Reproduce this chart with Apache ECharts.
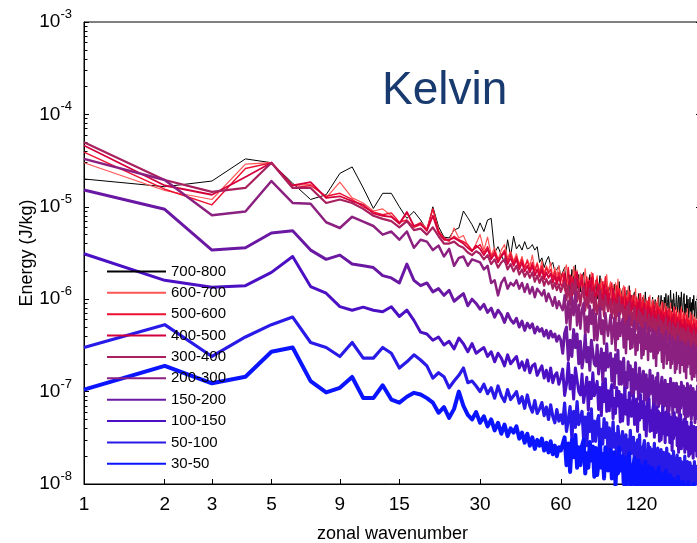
<!DOCTYPE html>
<html><head><meta charset="utf-8">
<script src="https://cdn.jsdelivr.net/npm/echarts@6/dist/echarts.min.js"></script>
<style>html,body{margin:0;padding:0;background:#fff}#c{width:697px;height:543px}</style>
</head><body><div id="c"></div>
<script>
// ---- data (energy in J/kg, index i -> zonal wavenumber i+1) ----
const seriesNames = ['700-800','600-700','500-600','400-500','300-400','200-300','150-200','100-150','50-100','30-50'];
const xTickValues = [1,2,3,5,9,15,30,60,120];
const yTickValues = [1e-8,1e-7,1e-6,1e-5,1e-4,1e-3];

const s700_800 = [
2.0e-5,1.65e-5,1.9e-5,3.3e-5,3.0e-5,1.8e-5,1.2e-5,1.35e-5,2.3e-5,2.7e-5,
1.6e-5,9.6e-6,1.4e-5,1.4e-5,1.0e-5,7.5e-6,8.9e-6,7.2e-6,5.6e-6,1.0e-5,
6.1e-6,4.7e-6,4.6e-6,5.6e-6,5.9e-6,9.0e-6,7.6e-6,6.4e-6,5.2e-6,6.7e-6,
5.4e-6,7.2e-6,7.5e-6,3.2e-6,3.7e-6,3.0e-6,2.5e-6,4.4e-6,2.9e-6,4.8e-6,
3.5e-6,3.9e-6,3.4e-6,4.2e-6,3.5e-6,3.6e-6,3.9e-6,3.4e-6,3.7e-6,2.5e-6,
2.8e-6,2.2e-6,2.6e-6,2.9e-6,2.3e-6,2.5e-6,2.0e-6,2.1e-6,2.3e-6,1.75e-6,
1.7e-6,2.2e-6,1.4e-6,2.0e-6,1.2e-6,2.1e-6,1.6e-6,2.35e-6,1.3e-6,1.85e-6,
1.2e-6,1.75e-6,1.95e-6,1.1e-6,1.5e-6,1.15e-6,1.85e-6,1.35e-6,1.7e-6,1.0e-6,
1.6e-6,1.0e-6,1.25e-6,1.8e-6,1.15e-6,1.45e-6,9.6e-7,1.65e-6,1.35e-6,1.1e-6,
1.05e-6,1.5e-6,9.2e-7,1.15e-6,1.45e-6,8.1e-7,1.3e-6,9.9e-7,1.55e-6,1.05e-6,
1.0e-6,1.3e-6,8.2e-7,1.15e-6,7.2e-7,1.25e-6,9.5e-7,1.4e-6,7.8e-7,1.1e-6,
7.7e-7,1.1e-6,1.2e-6,6.8e-7,9.5e-7,7.2e-7,1.15e-6,8.3e-7,1.05e-6,6.3e-7,
1.05e-6,6.6e-7,8.1e-7,1.2e-6,7.5e-7,9.4e-7,6.3e-7,1.05e-6,8.7e-7,7.1e-7,
7.4e-7,1.05e-6,6.4e-7,7.8e-7,9.9e-7,5.6e-7,9.1e-7,6.9e-7,1.1e-6,7.2e-7,
8.5e-7,1.1e-6,7.0e-7,9.8e-7,6.1e-7,1.05e-6,8.1e-7,1.15e-6,6.6e-7,9.2e-7,
1.1e-6,7.0e-7,8.6e-7,1.25e-6,7.9e-7,9.9e-7,6.7e-7,1.15e-6,9.2e-7,7.6e-7,
8.3e-7,1.2e-6,7.2e-7,8.8e-7,1.1e-6,6.3e-7,1.05e-6,7.7e-7,1.2e-6,8.1e-7,
7.2e-7,1.0e-6,1.15e-6,6.4e-7,8.9e-7,6.8e-7,1.1e-6,7.8e-7,1.0e-6,6.0e-7,
8.0e-7,1.05e-6,6.6e-7,9.2e-7,5.8e-7,1.0e-6,7.6e-7,1.1e-6,6.2e-7,8.6e-7,
9.5e-7,6.1e-7,7.4e-7,1.1e-6,6.9e-7,8.6e-7,5.8e-7,9.8e-7,8.0e-7,6.6e-7];

const s600_700 = [
3.0e-5,1.5e-5,1.2e-5,2.9e-5,3.0e-5,1.7e-5,1.75e-5,1.25e-5,1.85e-5,1.25e-5,
1.1e-5,9.0e-6,9.5e-6,8.0e-6,6.5e-6,8.5e-6,6.2e-6,6.8e-6,5.8e-6,9.5e-6,
5.6e-6,4.5e-6,4.2e-6,5.9e-6,4.6e-6,4.9e-6,3.8e-6,3.3e-6,4.0e-6,5.0e-6,
3.4e-6,4.7e-6,3.0e-6,3.6e-6,2.7e-6,3.4e-6,3.9e-6,2.8e-6,3.3e-6,2.6e-6,
3.1e-6,2.4e-6,2.9e-6,2.2e-6,2.7e-6,2.3e-6,3.0e-6,2.1e-6,2.5e-6,2.0e-6,
2.6e-6,1.9e-6,2.3e-6,2.0e-6,2.5e-6,1.7e-6,2.2e-6,1.8e-6,2.3e-6,1.7e-6,
1.5e-6,2.1e-6,2.35e-6,1.3e-6,1.85e-6,1.4e-6,2.25e-6,1.6e-6,2.05e-6,1.25e-6,
1.9e-6,1.2e-6,1.45e-6,2.15e-6,1.35e-6,1.7e-6,1.15e-6,1.95e-6,1.6e-6,1.3e-6,
1.25e-6,1.8e-6,1.1e-6,1.3e-6,1.65e-6,9.5e-7,1.55e-6,1.15e-6,1.85e-6,1.2e-6,
1.2e-6,1.55e-6,9.8e-7,1.4e-6,8.6e-7,1.5e-6,1.15e-6,1.65e-6,9.4e-7,1.3e-6,
8.9e-7,1.25e-6,1.4e-6,7.9e-7,1.1e-6,8.4e-7,1.35e-6,9.7e-7,1.25e-6,7.4e-7,
1.1e-6,7.2e-7,8.7e-7,1.3e-6,8.1e-7,1.0e-6,6.8e-7,1.15e-6,9.4e-7,7.7e-7,
7.5e-7,1.1e-6,6.6e-7,8.0e-7,1.0e-6,5.7e-7,9.3e-7,7.1e-7,1.1e-6,7.4e-7,
7.6e-7,9.9e-7,6.2e-7,8.7e-7,5.5e-7,9.5e-7,7.2e-7,1.05e-6,5.9e-7,8.2e-7,
6.0e-7,8.4e-7,9.5e-7,5.3e-7,7.4e-7,5.6e-7,9.0e-7,6.4e-7,8.3e-7,4.9e-7,
7.9e-7,5.1e-7,6.2e-7,9.1e-7,5.7e-7,7.2e-7,4.8e-7,8.2e-7,6.6e-7,5.5e-7,
5.6e-7,8.1e-7,4.9e-7,6.0e-7,7.6e-7,4.3e-7,7.0e-7,5.2e-7,8.3e-7,5.5e-7,
5.7e-7,7.4e-7,4.7e-7,6.6e-7,4.1e-7,7.1e-7,5.4e-7,7.9e-7,4.4e-7,6.2e-7,
4.6e-7,6.5e-7,7.3e-7,4.1e-7,5.7e-7,4.3e-7,6.9e-7,5.0e-7,6.4e-7,3.8e-7,
6.2e-7,4.0e-7,4.8e-7,7.1e-7,4.5e-7,5.6e-7,3.8e-7,6.4e-7,5.2e-7,4.3e-7];

const s500_600 = [
3.9e-5,1.55e-5,1.05e-5,2.6e-5,3.0e-5,1.6e-5,1.7e-5,1.3e-5,1.4e-5,1.2e-5,
1.0e-5,8.8e-6,8.2e-6,8.6e-6,6.8e-6,7.2e-6,6.0e-6,6.4e-6,5.6e-6,9.5e-6,
5.4e-6,4.6e-6,4.3e-6,4.8e-6,4.4e-6,4.2e-6,3.9e-6,3.4e-6,3.6e-6,3.9e-6,
3.2e-6,3.7e-6,2.9e-6,3.3e-6,2.7e-6,3.0e-6,3.4e-6,2.6e-6,3.1e-6,2.5e-6,
2.9e-6,2.3e-6,2.7e-6,2.2e-6,2.6e-6,2.1e-6,2.5e-6,2.0e-6,2.4e-6,1.9e-6,
2.3e-6,1.8e-6,2.2e-6,1.9e-6,2.1e-6,1.7e-6,2.0e-6,1.6e-6,1.95e-6,1.6e-6,
1.95e-6,1.25e-6,1.5e-6,2.2e-6,1.4e-6,1.75e-6,1.2e-6,2.0e-6,1.6e-6,1.35e-6,
1.3e-6,1.85e-6,1.1e-6,1.35e-6,1.75e-6,9.8e-7,1.6e-6,1.2e-6,1.9e-6,1.25e-6,
1.25e-6,1.65e-6,1.05e-6,1.45e-6,9.0e-7,1.55e-6,1.2e-6,1.75e-6,9.8e-7,1.35e-6,
9.4e-7,1.3e-6,1.5e-6,8.3e-7,1.15e-6,8.8e-7,1.4e-6,1.0e-6,1.3e-6,7.7e-7,
1.15e-6,7.4e-7,9.0e-7,1.35e-6,8.4e-7,1.05e-6,7.0e-7,1.2e-6,9.7e-7,8.0e-7,
7.8e-7,1.1e-6,6.8e-7,8.3e-7,1.05e-6,6.0e-7,9.7e-7,7.3e-7,1.15e-6,7.7e-7,
7.7e-7,1.0e-6,6.3e-7,8.9e-7,5.5e-7,9.6e-7,7.3e-7,1.05e-6,6.0e-7,8.3e-7,
6.0e-7,8.4e-7,9.5e-7,5.3e-7,7.4e-7,5.6e-7,9.0e-7,6.4e-7,8.3e-7,4.9e-7,
7.9e-7,5.1e-7,6.2e-7,9.1e-7,5.7e-7,7.2e-7,4.8e-7,8.2e-7,6.6e-7,5.5e-7,
5.5e-7,7.9e-7,4.8e-7,5.9e-7,7.4e-7,4.2e-7,6.8e-7,5.2e-7,8.2e-7,5.4e-7,
5.6e-7,7.3e-7,4.6e-7,6.4e-7,4.0e-7,7.0e-7,5.3e-7,7.7e-7,4.4e-7,6.0e-7,
4.4e-7,6.2e-7,7.0e-7,3.9e-7,5.5e-7,4.2e-7,6.7e-7,4.8e-7,6.1e-7,3.6e-7,
5.9e-7,3.7e-7,4.6e-7,6.7e-7,4.2e-7,5.3e-7,3.6e-7,6.0e-7,4.9e-7,4.0e-7,
4.1e-7,5.9e-7,3.6e-7,4.4e-7,5.6e-7,3.2e-7,5.1e-7,3.9e-7,6.1e-7,4.1e-7];

const s400_500 = [
4.6e-5,1.7e-5,1.35e-5,2.1e-5,3.0e-5,1.7e-5,1.85e-5,1.25e-5,1.3e-5,1.15e-5,
1.05e-5,8.5e-6,8.0e-6,7.8e-6,6.6e-6,8.8e-6,6.2e-6,6.6e-6,5.5e-6,8.0e-6,
5.2e-6,4.4e-6,4.4e-6,4.6e-6,4.3e-6,4.0e-6,3.6e-6,3.3e-6,3.8e-6,3.5e-6,
3.0e-6,3.5e-6,2.7e-6,3.1e-6,2.5e-6,2.9e-6,3.2e-6,2.4e-6,2.8e-6,2.3e-6,
2.7e-6,2.1e-6,2.5e-6,2.0e-6,2.3e-6,1.95e-6,2.3e-6,1.8e-6,2.1e-6,1.75e-6,
2.1e-6,1.65e-6,1.95e-6,1.7e-6,1.9e-6,1.5e-6,1.8e-6,1.45e-6,1.75e-6,1.45e-6,
1.35e-6,1.9e-6,1.15e-6,1.4e-6,1.8e-6,1.0e-6,1.65e-6,1.25e-6,1.95e-6,1.3e-6,
1.25e-6,1.6e-6,1.05e-6,1.45e-6,9.0e-7,1.55e-6,1.2e-6,1.7e-6,9.8e-7,1.35e-6,
9.2e-7,1.3e-6,1.45e-6,8.1e-7,1.15e-6,8.6e-7,1.4e-6,9.9e-7,1.25e-6,7.6e-7,
1.15e-6,7.3e-7,8.8e-7,1.3e-6,8.2e-7,1.0e-6,6.9e-7,1.15e-6,9.5e-7,7.8e-7,
7.5e-7,1.05e-6,6.6e-7,8.0e-7,1.0e-6,5.7e-7,9.3e-7,7.1e-7,1.1e-6,7.4e-7,
7.3e-7,9.5e-7,6.0e-7,8.4e-7,5.3e-7,9.1e-7,6.9e-7,1.0e-6,5.7e-7,7.9e-7,
5.6e-7,7.9e-7,8.9e-7,5.0e-7,6.9e-7,5.3e-7,8.4e-7,6.1e-7,7.8e-7,4.6e-7,
7.3e-7,4.7e-7,5.7e-7,8.4e-7,5.3e-7,6.6e-7,4.4e-7,7.6e-7,6.1e-7,5.0e-7,
5.1e-7,7.3e-7,4.4e-7,5.4e-7,6.8e-7,3.9e-7,6.3e-7,4.7e-7,7.5e-7,5.0e-7,
5.0e-7,6.5e-7,4.1e-7,5.8e-7,3.6e-7,6.3e-7,4.8e-7,6.9e-7,3.9e-7,5.4e-7,
3.9e-7,5.5e-7,6.2e-7,3.5e-7,4.8e-7,3.7e-7,5.9e-7,4.2e-7,5.4e-7,3.2e-7,
5.2e-7,3.4e-7,4.1e-7,6.0e-7,3.8e-7,4.7e-7,3.2e-7,5.4e-7,4.4e-7,3.6e-7,
3.7e-7,5.3e-7,3.2e-7,3.9e-7,5.0e-7,2.8e-7,4.6e-7,3.4e-7,5.4e-7,3.6e-7,
3.8e-7,4.9e-7,3.1e-7,4.4e-7,2.7e-7,4.8e-7,3.6e-7,5.2e-7,3.0e-7,4.1e-7];

const s300_400 = [
5.0e-5,1.95e-5,1.45e-5,1.6e-5,3.0e-5,1.6e-5,1.6e-5,1.1e-5,1.2e-5,1.1e-5,
9.5e-6,8.0e-6,7.4e-6,7.0e-6,6.0e-6,7.0e-6,5.6e-6,5.8e-6,5.0e-6,6.0e-6,
4.8e-6,4.0e-6,4.0e-6,4.2e-6,3.8e-6,3.6e-6,3.2e-6,3.0e-6,3.3e-6,3.1e-6,
2.7e-6,3.0e-6,2.4e-6,2.7e-6,2.2e-6,2.5e-6,2.7e-6,2.1e-6,2.4e-6,2.0e-6,
2.3e-6,1.85e-6,2.1e-6,1.75e-6,2.0e-6,1.7e-6,1.95e-6,1.55e-6,1.8e-6,1.5e-6,
1.75e-6,1.4e-6,1.65e-6,1.45e-6,1.6e-6,1.3e-6,1.5e-6,1.25e-6,1.45e-6,1.2e-6,
1.2e-6,1.55e-6,9.8e-7,1.4e-6,8.6e-7,1.5e-6,1.15e-6,1.65e-6,9.4e-7,1.3e-6,
8.5e-7,1.2e-6,1.35e-6,7.5e-7,1.05e-6,8.0e-7,1.3e-6,9.2e-7,1.2e-6,7.0e-7,
1.05e-6,6.9e-7,8.4e-7,1.25e-6,7.7e-7,9.7e-7,6.5e-7,1.1e-6,9.0e-7,7.4e-7,
7.1e-7,1.0e-6,6.2e-7,7.5e-7,9.5e-7,5.4e-7,8.8e-7,6.6e-7,1.05e-6,6.9e-7,
6.7e-7,8.7e-7,5.5e-7,7.7e-7,4.8e-7,8.4e-7,6.4e-7,9.2e-7,5.2e-7,7.2e-7,
5.1e-7,7.2e-7,8.1e-7,4.5e-7,6.3e-7,4.8e-7,7.7e-7,5.5e-7,7.1e-7,4.2e-7,
6.6e-7,4.2e-7,5.1e-7,7.6e-7,4.8e-7,5.9e-7,4.0e-7,6.8e-7,5.5e-7,4.5e-7,
4.5e-7,6.5e-7,3.9e-7,4.8e-7,6.1e-7,3.4e-7,5.6e-7,4.2e-7,6.7e-7,4.4e-7,
4.5e-7,5.9e-7,3.7e-7,5.2e-7,3.2e-7,5.6e-7,4.3e-7,6.2e-7,3.5e-7,4.9e-7,
3.6e-7,5.0e-7,5.7e-7,3.2e-7,4.4e-7,3.4e-7,5.4e-7,3.9e-7,5.0e-7,2.9e-7,
4.8e-7,3.0e-7,3.7e-7,5.5e-7,3.4e-7,4.3e-7,2.9e-7,4.9e-7,4.0e-7,3.3e-7,
3.3e-7,4.8e-7,2.9e-7,3.5e-7,4.5e-7,2.5e-7,4.1e-7,3.1e-7,4.9e-7,3.2e-7,
3.3e-7,4.3e-7,2.7e-7,3.8e-7,2.4e-7,4.1e-7,3.1e-7,4.6e-7,2.6e-7,3.6e-7,
2.6e-7,3.7e-7,4.2e-7,2.3e-7,3.3e-7,2.5e-7,4.0e-7,2.9e-7,3.7e-7,2.2e-7];

const s200_300 = [
3.3e-5,1.95e-5,8.1e-6,8.9e-6,1.9e-5,1.1e-5,1.08e-5,6.8e-6,5.9e-6,7.8e-6,
6.9e-6,6.2e-6,5.0e-6,5.4e-6,4.4e-6,5.4e-6,3.6e-6,4.4e-6,4.2e-6,3.4e-6,
3.8e-6,2.9e-6,3.5e-6,2.3e-6,2.8e-6,2.9e-6,2.3e-6,2.7e-6,2.6e-6,2.5e-6,
2.1e-6,2.3e-6,1.5e-6,1.6e-6,1.1e-6,1.5e-6,1.7e-6,1.3e-6,1.5e-6,1.4e-6,
1.6e-6,1.3e-6,1.5e-6,1.2e-6,1.45e-6,1.15e-6,1.35e-6,1.05e-6,1.3e-6,1.2e-6,
1.1e-6,1.25e-6,9.5e-7,1.15e-6,1.0e-6,8.5e-7,1.05e-6,8.0e-7,9.5e-7,8.4e-7,
7.6e-7,1.1e-6,5.5e-7,9.5e-7,4.7e-7,1.05e-6,6.7e-7,1.18e-6,5.2e-7,8.7e-7,
4.8e-7,7.8e-7,9.1e-7,4.0e-7,6.5e-7,4.4e-7,8.5e-7,5.4e-7,7.7e-7,3.6e-7,
6.9e-7,3.6e-7,4.8e-7,8.1e-7,4.2e-7,5.9e-7,3.3e-7,7.1e-7,5.2e-7,4.0e-7,
4.0e-7,6.8e-7,3.3e-7,4.5e-7,6.3e-7,2.8e-7,5.5e-7,3.7e-7,7.0e-7,4.0e-7,
4.2e-7,6.1e-7,3.0e-7,5.3e-7,2.6e-7,5.8e-7,3.7e-7,6.5e-7,2.9e-7,4.8e-7,
3.0e-7,4.9e-7,5.8e-7,2.5e-7,4.1e-7,2.8e-7,5.4e-7,3.4e-7,4.9e-7,2.3e-7,
4.7e-7,2.5e-7,3.3e-7,5.5e-7,2.9e-7,4.1e-7,2.2e-7,4.9e-7,3.6e-7,2.7e-7,
2.8e-7,4.7e-7,2.3e-7,3.1e-7,4.4e-7,1.9e-7,3.8e-7,2.6e-7,4.9e-7,2.8e-7,
2.9e-7,4.2e-7,2.1e-7,3.6e-7,1.8e-7,4.0e-7,2.6e-7,4.5e-7,2.0e-7,3.3e-7,
2.2e-7,3.5e-7,4.1e-7,1.8e-7,2.9e-7,2.0e-7,3.8e-7,2.4e-7,3.5e-7,1.6e-7,
3.4e-7,1.75e-7,2.35e-7,4.0e-7,2.05e-7,2.9e-7,1.6e-7,3.5e-7,2.55e-7,1.95e-7,
2.0e-7,3.4e-7,1.65e-7,2.25e-7,3.1e-7,1.4e-7,2.75e-7,1.85e-7,3.5e-7,2.0e-7,
2.15e-7,3.1e-7,1.55e-7,2.7e-7,1.35e-7,3.0e-7,1.9e-7,3.3e-7,1.45e-7,2.5e-7,
1.6e-7,2.6e-7,3.0e-7,1.3e-7,2.15e-7,1.5e-7,2.85e-7,1.8e-7,2.55e-7,1.2e-7];

const s150_200 = [
1.52e-5,9.4e-6,3.4e-6,3.6e-6,5.2e-6,5.5e-6,3.4e-6,2.7e-6,3.0e-6,2.4e-6,
2.3e-6,2.2e-6,1.8e-6,1.7e-6,1.5e-6,2.4e-6,1.6e-6,1.4e-6,1.5e-6,1.2e-6,
1.3e-6,1.1e-6,1.25e-6,9.5e-7,1.05e-6,1.15e-6,8.5e-7,1.0e-6,9.0e-7,7.8e-7,
8.8e-7,7.2e-7,8.0e-7,6.4e-7,7.6e-7,6.8e-7,5.6e-7,7.0e-7,6.0e-7,5.5e-7,
6.2e-7,5.0e-7,5.8e-7,4.6e-7,5.5e-7,4.9e-7,5.4e-7,4.3e-7,5.0e-7,4.5e-7,
4.8e-7,4.0e-7,4.6e-7,3.8e-7,4.5e-7,3.9e-7,4.2e-7,3.5e-7,4.0e-7,3.6e-7,
2.6e-7,4.3e-7,5.0e-7,2.2e-7,3.6e-7,2.4e-7,4.7e-7,3.0e-7,4.2e-7,2.0e-7,
3.5e-7,1.8e-7,2.4e-7,4.1e-7,2.1e-7,3.0e-7,1.7e-7,3.6e-7,2.65e-7,2.0e-7,
1.9e-7,3.2e-7,1.55e-7,2.1e-7,2.9e-7,1.3e-7,2.6e-7,1.7e-7,3.3e-7,1.85e-7,
1.8e-7,2.6e-7,1.3e-7,2.25e-7,1.1e-7,2.5e-7,1.6e-7,2.8e-7,1.2e-7,2.1e-7,
1.2e-7,1.95e-7,2.3e-7,1.0e-7,1.6e-7,1.1e-7,2.1e-7,1.35e-7,1.9e-7,9.0e-8,
1.75e-7,9.1e-8,1.2e-7,2.05e-7,1.07e-7,1.5e-7,8.3e-8,1.8e-7,1.33e-7,1.0e-7,
9.9e-8,1.66e-7,8.1e-8,1.1e-7,1.52e-7,6.7e-8,1.34e-7,9.0e-8,1.7e-7,9.6e-8,
1.02e-7,1.48e-7,7.3e-8,1.28e-7,6.3e-8,1.41e-7,9.0e-8,1.58e-7,6.9e-8,1.17e-7,
7.5e-8,1.22e-7,1.43e-7,6.2e-8,1.02e-7,7.0e-8,1.33e-7,8.5e-8,1.2e-7,5.6e-8,
1.19e-7,6.2e-8,8.3e-8,1.39e-7,7.2e-8,1.02e-7,5.6e-8,1.23e-7,9.0e-8,6.9e-8,
7.3e-8,1.23e-7,6.0e-8,8.1e-8,1.13e-7,5.0e-8,1.0e-7,6.6e-8,1.26e-7,7.1e-8,
7.9e-8,1.15e-7,5.7e-8,9.9e-8,4.9e-8,1.09e-7,7.0e-8,1.22e-7,5.4e-8,9.1e-8,
6.1e-8,9.9e-8,1.16e-7,5.0e-8,8.2e-8,5.6e-8,1.08e-7,6.8e-8,9.7e-8,4.6e-8,
9.9e-8,5.1e-8,6.9e-8,1.15e-7,6.0e-8,8.5e-8,4.7e-8,1.02e-7,7.4e-8,5.7e-8];

const s100_150 = [
3.1e-6,1.6e-6,1.35e-6,1.4e-6,1.95e-6,2.9e-6,1.37e-6,1.16e-6,8.3e-7,7.6e-7,
8.2e-7,7.6e-7,7.3e-7,8.3e-7,6.5e-7,7.6e-7,5.9e-7,4.4e-7,4.2e-7,3.6e-7,
3.9e-7,3.2e-7,3.5e-7,2.9e-7,3.8e-7,3.3e-7,2.7e-7,3.3e-7,2.6e-7,2.8e-7,
3.0e-7,2.4e-7,2.7e-7,2.1e-7,2.6e-7,2.3e-7,1.9e-7,2.5e-7,2.0e-7,2.2e-7,
2.4e-7,1.8e-7,2.1e-7,1.7e-7,2.2e-7,1.6e-7,1.9e-7,2.0e-7,1.5e-7,1.7e-7,
1.9e-7,1.4e-7,1.7e-7,1.3e-7,1.8e-7,1.25e-7,1.5e-7,1.6e-7,1.2e-7,1.4e-7,
1.75e-7,9.1e-8,1.2e-7,2.05e-7,1.07e-7,1.5e-7,8.3e-8,1.8e-7,1.33e-7,1.0e-7,
9.2e-8,1.55e-7,7.6e-8,1.03e-7,1.43e-7,6.3e-8,1.26e-7,8.4e-8,1.6e-7,9.0e-8,
8.9e-8,1.29e-7,6.4e-8,1.11e-7,5.5e-8,1.23e-7,7.8e-8,1.38e-7,6.1e-8,1.02e-7,
6.2e-8,1.01e-7,1.19e-7,5.1e-8,8.4e-8,5.8e-8,1.11e-7,7.0e-8,1.0e-7,4.7e-8,
9.3e-8,4.8e-8,6.5e-8,1.09e-7,5.7e-8,8.0e-8,4.4e-8,9.7e-8,7.0e-8,5.4e-8,
5.4e-8,9.0e-8,4.4e-8,6.0e-8,8.3e-8,3.7e-8,7.3e-8,4.9e-8,9.3e-8,5.2e-8,
5.4e-8,7.8e-8,3.9e-8,6.8e-8,3.3e-8,7.5e-8,4.8e-8,8.4e-8,3.7e-8,6.2e-8,
3.8e-8,6.2e-8,7.3e-8,3.2e-8,5.2e-8,3.6e-8,6.8e-8,4.3e-8,6.1e-8,2.9e-8,
5.8e-8,3.0e-8,4.0e-8,6.8e-8,3.5e-8,5.0e-8,2.8e-8,6.0e-8,4.4e-8,3.4e-8,
3.4e-8,5.8e-8,2.8e-8,3.8e-8,5.3e-8,2.3e-8,4.7e-8,3.1e-8,5.9e-8,3.4e-8,
3.6e-8,5.2e-8,2.6e-8,4.5e-8,2.2e-8,5.0e-8,3.2e-8,5.6e-8,2.4e-8,4.1e-8,
2.6e-8,4.3e-8,5.0e-8,2.2e-8,3.6e-8,2.4e-8,4.7e-8,3.0e-8,4.2e-8,2.0e-8,
4.1e-8,2.1e-8,2.8e-8,4.7e-8,2.5e-8,3.5e-8,1.9e-8,4.2e-8,3.1e-8,2.3e-8,
2.5e-8,4.1e-8,2.0e-8,2.7e-8,3.8e-8,1.7e-8,3.4e-8,2.2e-8,4.3e-8,2.4e-8];

const s50_100 = [
3.0e-7,5.3e-7,2.4e-7,3.9e-7,5.3e-7,6.4e-7,3.4e-7,3.0e-7,2.4e-7,3.4e-7,
2.3e-7,2.3e-7,3.0e-7,2.6e-7,1.8e-7,2.1e-7,2.5e-7,2.2e-7,1.9e-7,1.4e-7,
1.6e-7,1.45e-7,1.1e-7,1.3e-7,1.5e-7,1.8e-7,1.25e-7,1.3e-7,1.15e-7,1.0e-7,
1.2e-7,9.5e-8,1.1e-7,8.5e-8,1.15e-7,9.0e-8,7.8e-8,1.05e-7,8.2e-8,9.0e-8,
1.0e-7,7.5e-8,8.8e-8,6.6e-8,9.2e-8,7.0e-8,6.0e-8,8.0e-8,5.8e-8,6.5e-8,
7.6e-8,5.5e-8,6.8e-8,5.0e-8,7.2e-8,5.4e-8,4.6e-8,6.4e-8,4.8e-8,5.6e-8,
4.5e-8,7.5e-8,3.7e-8,5.0e-8,6.9e-8,3.1e-8,6.1e-8,4.1e-8,7.8e-8,4.4e-8,
4.2e-8,6.1e-8,3.0e-8,5.3e-8,2.6e-8,5.8e-8,3.7e-8,6.5e-8,2.9e-8,4.8e-8,
2.9e-8,4.7e-8,5.5e-8,2.4e-8,3.9e-8,2.7e-8,5.1e-8,3.2e-8,4.6e-8,2.2e-8,
4.05e-8,2.1e-8,2.8e-8,4.7e-8,2.5e-8,3.5e-8,1.9e-8,4.2e-8,3.1e-8,2.3e-8,
2.2e-8,3.7e-8,1.8e-8,2.45e-8,3.4e-8,1.5e-8,3.0e-8,2.0e-8,3.8e-8,2.15e-8,
2.2e-8,3.2e-8,1.6e-8,2.75e-8,1.35e-8,3.0e-8,1.95e-8,3.4e-8,1.5e-8,2.5e-8,
1.55e-8,2.55e-8,2.95e-8,1.3e-8,2.1e-8,1.45e-8,2.75e-8,1.75e-8,2.5e-8,1.15e-8,
2.35e-8,1.2e-8,1.65e-8,2.75e-8,1.45e-8,2.05e-8,1.1e-8,2.45e-8,1.8e-8,1.35e-8,
1.4e-8,2.35e-8,1.15e-8,1.55e-8,2.2e-8,9.6e-9,1.9e-8,1.3e-8,2.45e-8,1.4e-8,
1.45e-8,2.1e-8,1.05e-8,1.8e-8,9.0e-9,2.0e-8,1.3e-8,2.25e-8,9.9e-9,1.65e-8,
1.1e-8,1.75e-8,2.05e-8,8.9e-9,1.45e-8,1.0e-8,1.9e-8,1.2e-8,1.75e-8,8.1e-9,
1.7e-8,8.8e-9,1.2e-8,2.0e-8,1.0e-8,1.45e-8,8.0e-9,1.75e-8,1.3e-8,9.8e-9,
1.0e-8,1.7e-8,8.3e-9,1.15e-8,1.55e-8,6.9e-9,1.4e-8,9.2e-9,1.75e-8,9.9e-9,
1.08e-8,1.55e-8,7.8e-9,1.35e-8,6.7e-9,1.5e-8,9.5e-9,1.65e-8,7.3e-9,1.25e-8];

const s30_50 = [
1.05e-7,1.9e-7,1.23e-7,1.45e-7,2.7e-7,3.0e-7,1.3e-7,9.8e-8,1.1e-7,1.44e-7,
8.5e-8,8.5e-8,1.17e-7,8.2e-8,7.6e-8,8.8e-8,9.7e-8,9.3e-8,8.5e-8,7.6e-8,
5.9e-8,6.8e-8,5.2e-8,6.5e-8,1.0e-7,7.0e-8,5.6e-8,5.0e-8,6.0e-8,4.6e-8,
5.4e-8,4.2e-8,5.0e-8,3.8e-8,4.6e-8,3.5e-8,4.4e-8,3.3e-8,4.0e-8,3.6e-8,
4.2e-8,3.1e-8,3.6e-8,2.8e-8,3.5e-8,2.6e-8,3.2e-8,2.4e-8,3.0e-8,2.6e-8,
3.1e-8,2.3e-8,2.8e-8,2.2e-8,2.9e-8,2.1e-8,2.6e-8,2.0e-8,2.5e-8,2.3e-8,
2.2e-8,3.2e-8,1.6e-8,2.75e-8,1.35e-8,3.0e-8,1.95e-8,3.4e-8,1.5e-8,2.5e-8,
1.6e-8,2.6e-8,3.0e-8,1.3e-8,2.15e-8,1.5e-8,2.85e-8,1.8e-8,2.55e-8,1.2e-8,
2.45e-8,1.25e-8,1.7e-8,2.85e-8,1.5e-8,2.1e-8,1.15e-8,2.5e-8,1.85e-8,1.4e-8,
1.4e-8,2.35e-8,1.15e-8,1.55e-8,2.2e-8,9.6e-9,1.9e-8,1.3e-8,2.45e-8,1.4e-8,
1.4e-8,2.0e-8,1.0e-8,1.75e-8,8.7e-9,1.95e-8,1.25e-8,2.15e-8,9.5e-9,1.6e-8,
1.0e-8,1.6e-8,1.9e-8,8.3e-9,1.35e-8,9.3e-9,1.8e-8,1.1e-8,1.6e-8,7.5e-9,
1.5e-8,7.8e-9,1.05e-8,1.75e-8,9.2e-9,1.3e-8,7.2e-9,1.55e-8,1.15e-8,8.7e-9,
8.8e-9,1.48e-8,7.2e-9,9.8e-9,1.36e-8,6.0e-9,1.2e-8,8.0e-9,1.52e-8,8.6e-9,
9.0e-9,1.3e-8,6.5e-9,1.1e-8,5.6e-9,1.25e-8,8.0e-9,1.4e-8,6.1e-9,1.05e-8,
6.6e-9,1.05e-8,1.25e-8,5.4e-9,8.9e-9,6.1e-9,1.15e-8,7.4e-9,1.05e-8,4.9e-9,
1.05e-8,5.3e-9,7.1e-9,1.2e-8,6.2e-9,8.8e-9,4.9e-9,1.05e-8,7.8e-9,5.9e-9,
6.2e-9,1.05e-8,5.0e-9,6.9e-9,9.5e-9,4.2e-9,8.4e-9,5.6e-9,1.05e-8,6.0e-9,
6.5e-9,9.4e-9,4.7e-9,8.1e-9,4.0e-9,9.0e-9,5.7e-9,1.0e-8,4.4e-9,7.5e-9,
4.8e-9,7.8e-9,9.1e-9,4.0e-9,6.5e-9,4.4e-9,8.5e-9,5.4e-9,7.7e-9,3.6e-9];

const seriesValues = [s700_800,s600_700,s500_600,s400_500,s300_400,s200_300,s150_200,s100_150,s50_100,s30_50];

// ---- styles ----
const lineColors = ['#000000','#ff5555','#ee1030','#d4003c','#a8205e','#8c2080','#6a18a4','#4c10c4','#2a1ae8','#0a14ff'];
const lineWidths = [1,1.2,1.4,1.8,2.2,2.5,3,3,3.2,4];
const FONT = '"Liberation Sans", Arial, Helvetica, sans-serif';

// Minor ticks (2..9 in each decade). They are drawn by a helper log axis that spans the
// same pixel range as the energy axis but is expressed in units of 1e-8 J/kg
// (1 .. 1e5), which keeps the tick values well away from floating-point rounding.
const minorTickUnits = [];
for (let e = 0; e < 5; e++) for (let m = 2; m <= 9; m++) minorTickUnits.push(m * Math.pow(10, e));

const series = seriesNames.map((name, i) => ({
  name, type: 'line', xAxisIndex: 0, yAxisIndex: 0,
  data: seriesValues[i].map((v, j) => [j + 1, v]),
  symbol: 'none', showSymbol: false, clip: true, animation: false,
  lineStyle: { color: lineColors[i], width: lineWidths[i], join: 'round' },
  itemStyle: { color: lineColors[i], opacity: 0 },
  emphasis: { disabled: true }
}));

const logY = { type: 'log', logBase: 10, min: 1e-8, max: 1e-3, gridIndex: 0 };

const option = {
  animation: false,
  backgroundColor: '#ffffff',
  title: {
    text: 'Kelvin', left: 377, top: 63,
    textStyle: { fontFamily: FONT, fontSize: 46, fontWeight: 'normal', color: '#183a6e' }
  },
  grid: { left: 84, top: 22, width: 617, height: 462, show: true, borderColor: '#000', borderWidth: 1, backgroundColor: 'transparent', outerBoundsMode: 'none', containLabel: false },
  legend: {
    orient: 'vertical', left: 101, top: 259,
    itemWidth: 59, itemHeight: 14, itemGap: 6.36,
    data: seriesNames,
    textStyle: { fontFamily: FONT, fontSize: 15, color: '#000' },
    itemStyle: { opacity: 0 },
    selectedMode: false
  },
  xAxis: [{
    type: 'log', logBase: 10, min: 1, max: 200,
    name: 'zonal wavenumber', nameLocation: 'middle', nameGap: 41, nameMoveOverlap: false,
    nameTextStyle: { fontFamily: FONT, fontSize: 18, color: '#000' },
    axisLine: { show: true, lineStyle: { color: '#000', width: 1 } },
    axisTick: { show: true, inside: true, length: 5, lineStyle: { color: '#000' }, customValues: xTickValues },
    axisLabel: { show: true, margin: 11, fontFamily: FONT, fontSize: 19, color: '#000', customValues: xTickValues,
      formatter: v => String(Math.round(v)) },
    splitLine: { show: false }, minorTick: { show: false }
  }],
  yAxis: [
    Object.assign({}, logY, {
      position: 'left',
      name: 'Energy (J/kg)', nameLocation: 'middle', nameGap: 48, nameRotate: 90, nameMoveOverlap: false,
      nameTextStyle: { fontFamily: FONT, fontSize: 18, color: '#000' },
      axisLine: { show: true, lineStyle: { color: '#000', width: 1 } },
      axisTick: { show: true, inside: true, length: 5, lineStyle: { color: '#000' }, customValues: yTickValues },
      axisLabel: { show: true, margin: 12, customValues: yTickValues,
        formatter: v => '{b|10}{s|' + Math.round(Math.log10(v)) + '}',
        rich: {
          b: { fontFamily: FONT, fontSize: 19, lineHeight: 28, color: '#000', verticalAlign: 'middle' },
          s: { fontFamily: FONT, fontSize: 13, lineHeight: 13, color: '#000', verticalAlign: 'top' }
        }
      },
      splitLine: { show: false }
    }),
    {
      type: 'log', logBase: 10, min: 1, max: 1e5, gridIndex: 0, position: 'left',
      axisLine: { show: false },
      axisTick: { show: true, inside: true, length: 3.5, lineStyle: { color: '#000', width: 1 }, customValues: minorTickUnits },
      axisLabel: { show: false },
      splitLine: { show: false }
    },
    Object.assign({}, logY, {
      position: 'right',
      axisLine: { show: false },
      axisTick: { show: true, inside: true, length: 5, lineStyle: { color: '#000' }, customValues: yTickValues },
      axisLabel: { show: false },
      splitLine: { show: false }
    })
  ],
  series
};

const chart = echarts.init(document.getElementById('c'), null, { renderer: 'canvas' });
chart.setOption(option);
</script>
</body></html>
